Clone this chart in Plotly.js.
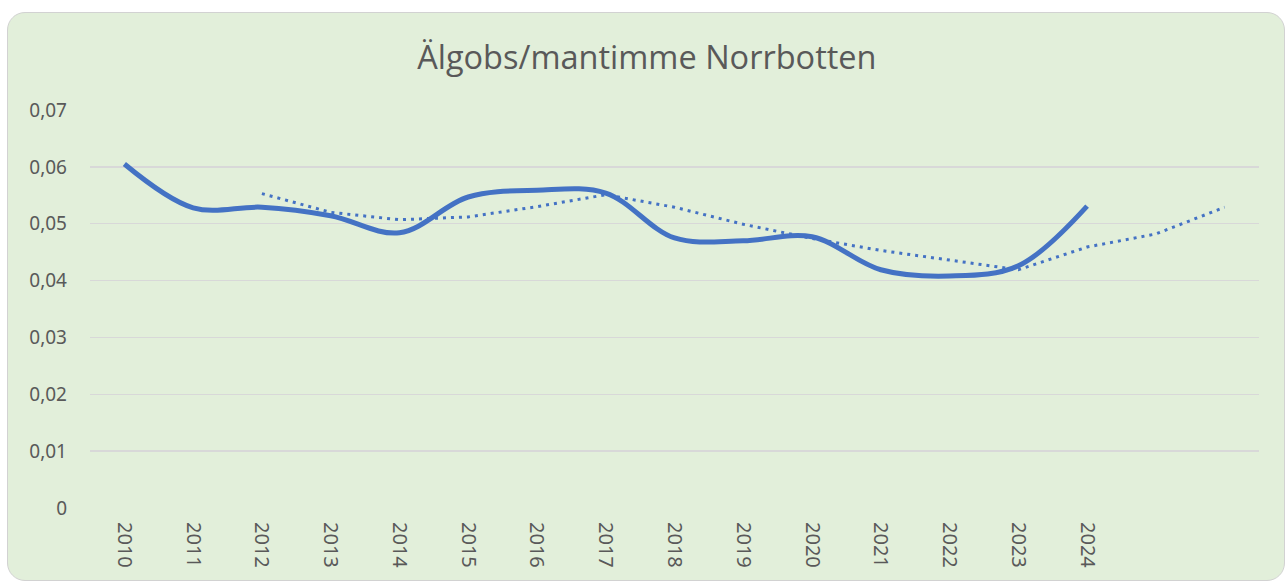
<!DOCTYPE html>
<html>
<head>
<meta charset="utf-8">
<script src="https://cdn.plot.ly/plotly-3.0.1.min.js"></script>
<style>
  html, body { margin: 0; padding: 0; background: #ffffff; overflow: hidden; }
  #box { position: absolute; left: 7px; top: 12px; width: 1276px; height: 567px;
         border: 1.5px solid #d2d2d2; border-radius: 18px; background: #e2efda; }
  #chart { position: absolute; left: 0; top: 0; width: 1286px; height: 583px; }
</style>
</head>
<body>
<div id="box"></div>
<div id="chart"></div>
<script>
// Data
const years = [2010, 2011, 2012, 2013, 2014, 2015, 2016, 2017, 2018, 2019, 2020, 2021, 2022, 2023, 2024];
const yearLabels = ['2010','2011','2012','2013','2014','2015','2016','2017','2018','2019','2020','2021','2022','2023','2024'];
const obsPerHour = [0.0605, 0.0528, 0.0529, 0.0514, 0.0484, 0.0547, 0.0559, 0.0554, 0.0475, 0.0470, 0.0477, 0.0419, 0.0408, 0.0426, 0.0531];

// Dotted trend line (moving average as drawn), extends beyond last label
const trendYears = [2012, 2013, 2014, 2015, 2016, 2017, 2018, 2019, 2020, 2021, 2022, 2023, 2024, 2025, 2026];
const trendValues = [0.0553, 0.0520, 0.0507, 0.0512, 0.0530, 0.0551, 0.0529, 0.0499, 0.0474, 0.0453, 0.0436, 0.0419, 0.0459, 0.0482, 0.0529];

const yTickVals = [0, 0.01, 0.02, 0.03, 0.04, 0.05, 0.06, 0.07];
const yTickLabels = ['0', '0,01', '0,02', '0,03', '0,04', '0,05', '0,06', '0,07'];

const traces = [
  {
    x: years, y: obsPerHour, type: 'scatter', mode: 'lines',
    line: { color: '#4472c4', width: 5, shape: 'spline', smoothing: 1 },
    hoverinfo: 'x+y', showlegend: false
  },
  {
    x: trendYears, y: trendValues, type: 'scatter', mode: 'lines',
    line: { color: '#4472c4', width: 3, dash: '3px,5px' },
    hoverinfo: 'x+y', showlegend: false
  }
];

const layout = {
  width: 1286, height: 583,
  paper_bgcolor: 'rgba(0,0,0,0)',
  plot_bgcolor: 'rgba(0,0,0,0)',
  margin: { l: 90, r: 27, t: 110, b: 75 },
  separators: ',.',
  title: {
    text: 'Älgobs/mantimme Norrbotten',
    font: { family: 'Open Sans, Noto Sans, sans-serif', size: 32.5, color: '#595959' },
    x: 0.503, xanchor: 'center', y: 0.902, yanchor: 'middle', xref: 'container', yref: 'container'
  },
  xaxis: {
    range: [2009.5, 2026.5],
    tickvals: years, ticktext: yearLabels,
    tickangle: 90,
    showgrid: false, zeroline: false, showline: false,
    ticks: '', ticklabelstandoff: 13,
    tickfont: { family: 'Noto Sans, sans-serif', size: 20, color: '#595959' },
    fixedrange: true
  },
  yaxis: {
    range: [0, 0.07],
    tickvals: yTickVals, ticktext: yTickLabels,
    showgrid: true, gridcolor: '#d8d8d8', gridwidth: 1.5,
    zeroline: false, showline: false, ticks: '',
    ticklabelstandoff: 22,
    tickfont: { family: 'Noto Sans, sans-serif', size: 19, color: '#595959' },
    fixedrange: true
  }
};

Plotly.newPlot('chart', traces, layout, { displayModeBar: false, staticPlot: true });
</script>
</body>
</html>
